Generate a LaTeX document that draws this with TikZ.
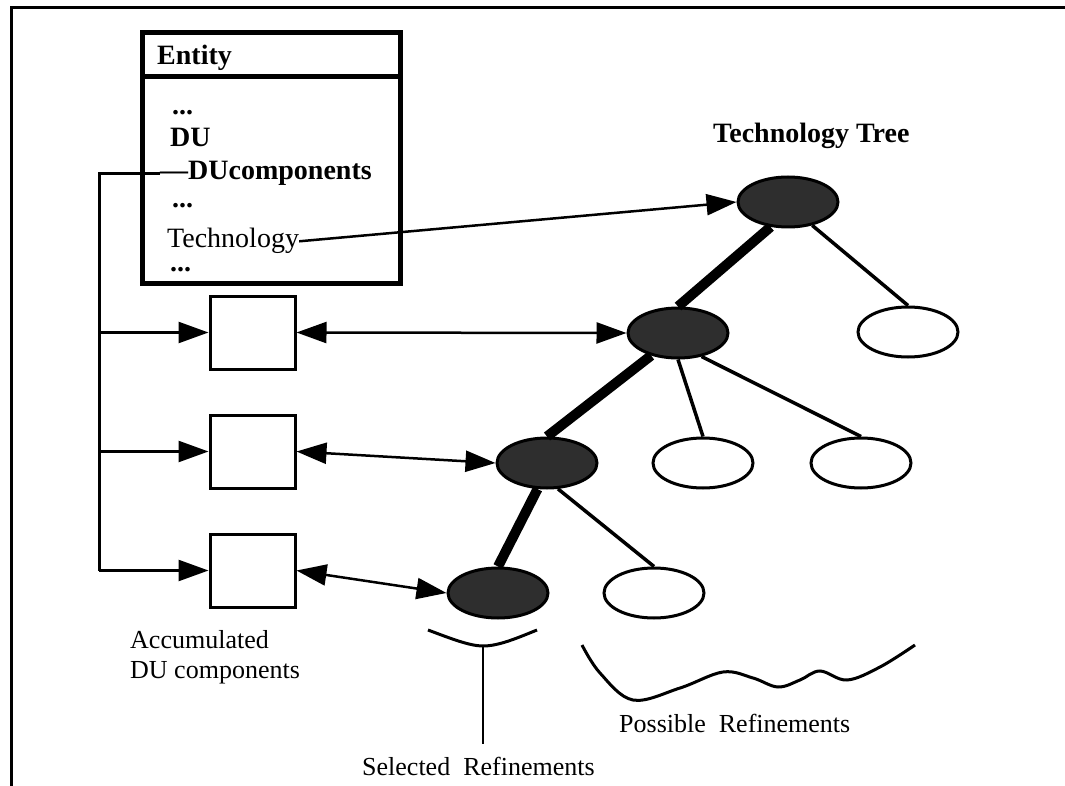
\documentclass[tikz,border=0pt]{standalone}
\usepackage{fontspec}
\setmainfont{Liberation Serif}
\usetikzlibrary{shapes.geometric,arrows.meta}
\begin{document}
\begin{tikzpicture}[x=1pt,y=-1pt,
  txt/.style={inner sep=0pt, anchor=base west, font=\fontsize{28}{32}\selectfont},
  btxt/.style={inner sep=0pt, anchor=base west, font=\fontsize{28}{32}\selectfont\bfseries},
  lbl/.style={inner sep=0pt, anchor=base west, font=\fontsize{26}{30}\selectfont},
  cbox/.style={draw, line width=3pt, minimum width=85pt, minimum height=73pt, inner sep=0pt},
  sel/.style={draw, ellipse, line width=3pt, fill=black!82, minimum width=100pt, minimum height=50pt, inner sep=0pt},
  opt/.style={draw, ellipse, line width=3pt, fill=white, minimum width=100pt, minimum height=50pt, inner sep=0pt},
  arr/.style={line width=2.5pt, -{Triangle[length=30pt,width=21pt]}},
  darr/.style={line width=2.5pt, {Triangle[length=30pt,width=21pt]}-{Triangle[length=30pt,width=21pt]}},
  thickedge/.style={line width=10pt},
  thinedge/.style={line width=3.5pt},
  plain/.style={line width=3pt},
]
\useasboundingbox (0,0) rectangle (1065,786);
% frame (top and left)
\draw[plain] (11,786) -- (11,8) -- (1065,8);

% entity box
\node[draw, line width=5pt, minimum width=258pt, minimum height=251pt, inner sep=0pt, anchor=north west] (entitybox) at (140,30) {};
\coordinate (divider) at (0,77);
\draw[line width=5pt] (entitybox.west |- divider) -- (entitybox.east |- divider);
\node[btxt] (entity) at (157,65) {Entity};
\node[btxt] (dotsa) at (172,115) {...};
\node[btxt] (du) at (170,147) {DU};
\node[btxt] (ducomp) at (160,180) {—DUcomponents};
\node[btxt] (dotsb) at (172,208) {...};
\node[txt] (tech) at (167,248) {Technology};
\node[btxt] (dotsc) at (170,272) {...};

% component boxes
\node[cbox] (boxa) at (252.5,332.5) {};
\node[cbox] (boxb) at (252.5,451.5) {};
\node[cbox] (boxc) at (252.5,570.5) {};

% tree nodes
\node[sel] (ea) at (788,202) {};
\node[sel] (eb) at (678,333) {};
\node[sel] (ec) at (547,463) {};
\node[sel] (ed) at (498,593) {};
\node[opt] (wa) at (908,332) {};
\node[opt] (wb) at (703,463) {};
\node[opt] (wc) at (861,463) {};
\node[opt] (wd) at (654,593) {};

% tree edges
\draw[thickedge] (ea.235) -- (eb.north);
\draw[thickedge] (eb.220) -- (ec.north);
\draw[thickedge] (ec.250) -- (ed.north);
\draw[thinedge] (ea.316) -- (wa.north);
\draw[thinedge] (eb.south) -- (wb.north);
\draw[thinedge] (eb.315) -- (wc.north);
\draw[thinedge] (ec.293) -- (wd.north);

% bus
\coordinate (bus) at (99,0);
\draw[plain] (ducomp.west) -- (ducomp.west -| bus) -- (boxc.west -| bus);
\draw[arr] (boxa.west -| bus) -- (boxa.west);
\draw[arr] (boxb.west -| bus) -- (boxb.west);
\draw[arr] (boxc.west -| bus) -- (boxc.west);

% links
\draw[arr] (tech.east) -- (ea.west);
\draw[darr] (boxa.east) -- (eb.west);
\draw[darr] (boxb.east) -- (ec.west);
\draw[darr] (boxc.east) -- (ed.west);

% labels
\node[btxt] (treelabel) at (713,143) {Technology Tree};
\node[lbl] (accum) at (130,648) {Accumulated};
\node[lbl] (ducomps) at (130,678) {DU components};
\node[lbl] (selected) at (362,775) {Selected\ \ Refinements};
\node[lbl] (possible) at (619,732) {Possible\ \ Refinements};

% brace under selected refinement
\coordinate (bracel) at (428,630);
\coordinate (bracetip) at (483,646);
\coordinate (bracer) at (537,630);
\coordinate (braceend) at (483,744);
\draw[plain] (bracel) .. controls (452,639) and (470,646) .. (bracetip) .. controls (498,646) and (515,639) .. (bracer);
\draw[line width=2.5pt] (bracetip) -- (braceend);

% wavy line over possible refinements
\draw[plain] plot[smooth, tension=0.6] coordinates {(582,645) (600,673) (633,700) (680,688) (723,672) (753,678) (778,687) (800,680) (820,671) (847,680) (880,667) (915,645)};
\end{tikzpicture}
\end{document}
